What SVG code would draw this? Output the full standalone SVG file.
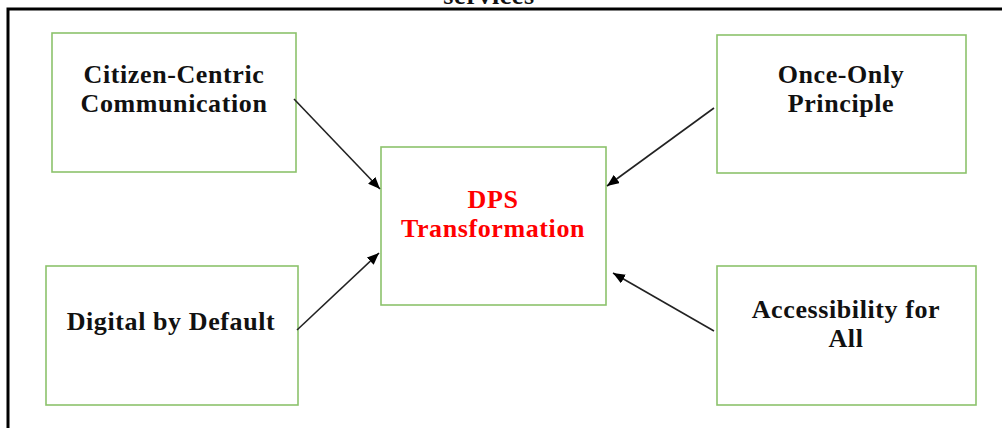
<svg xmlns="http://www.w3.org/2000/svg" width="1002" height="428" viewBox="0 0 1002 428">
<style>
.box{fill:#ffffff;stroke:#8cc26c;stroke-width:1.6}
.lbl{font-family:"Liberation Serif","Times New Roman",serif;font-weight:bold;font-size:26px;letter-spacing:0.6px;text-anchor:middle;fill:#111111}
.red{fill:#ff0000}
.conn{stroke:#222222;stroke-width:1.6;fill:none;marker-end:url(#ah)}
</style>
<defs>
<marker id="ah" viewBox="0 0 12 10" refX="12" refY="5" markerWidth="12" markerHeight="10" markerUnits="userSpaceOnUse" orient="auto">
<path d="M0,0 L12,5 L0,10 Z" fill="#000000"/>
</marker>
</defs>
<rect width="1002" height="428" fill="#ffffff"/>
<g id="frame">
<path d="M8,428 L8,9 L1002,9" fill="none" stroke="#000000" stroke-width="3"/>
<text class="lbl" x="489" y="4">services</text>
</g>
<g id="node-citizen">
<rect class="box" x="52" y="33" width="244" height="139"/>
<text class="lbl" x="174" y="83">Citizen-Centric</text>
<text class="lbl" x="174" y="112">Communication</text>
</g>
<g id="node-digital">
<rect class="box" x="46" y="266" width="252" height="139"/>
<text class="lbl" x="171" y="330">Digital by Default</text>
</g>
<g id="node-dps">
<rect class="box" x="381" y="147" width="225" height="158"/>
<text class="lbl red" x="493" y="208">DPS</text>
<text class="lbl red" x="493" y="237">Transformation</text>
</g>
<g id="node-once">
<rect class="box" x="717" y="35" width="249" height="138"/>
<text class="lbl" x="841" y="83">Once-Only</text>
<text class="lbl" x="841" y="112">Principle</text>
</g>
<g id="node-access">
<rect class="box" x="717" y="266" width="259" height="139"/>
<text class="lbl" x="846" y="318">Accessibility for</text>
<text class="lbl" x="846" y="347">All</text>
</g>
<g id="connectors">
<line class="conn" x1="294" y1="99" x2="380" y2="189"/>
<line class="conn" x1="297" y1="330" x2="379" y2="253"/>
<line class="conn" x1="714" y1="108" x2="607" y2="186"/>
<line class="conn" x1="714" y1="331" x2="613" y2="273"/>
</g>
</svg>
